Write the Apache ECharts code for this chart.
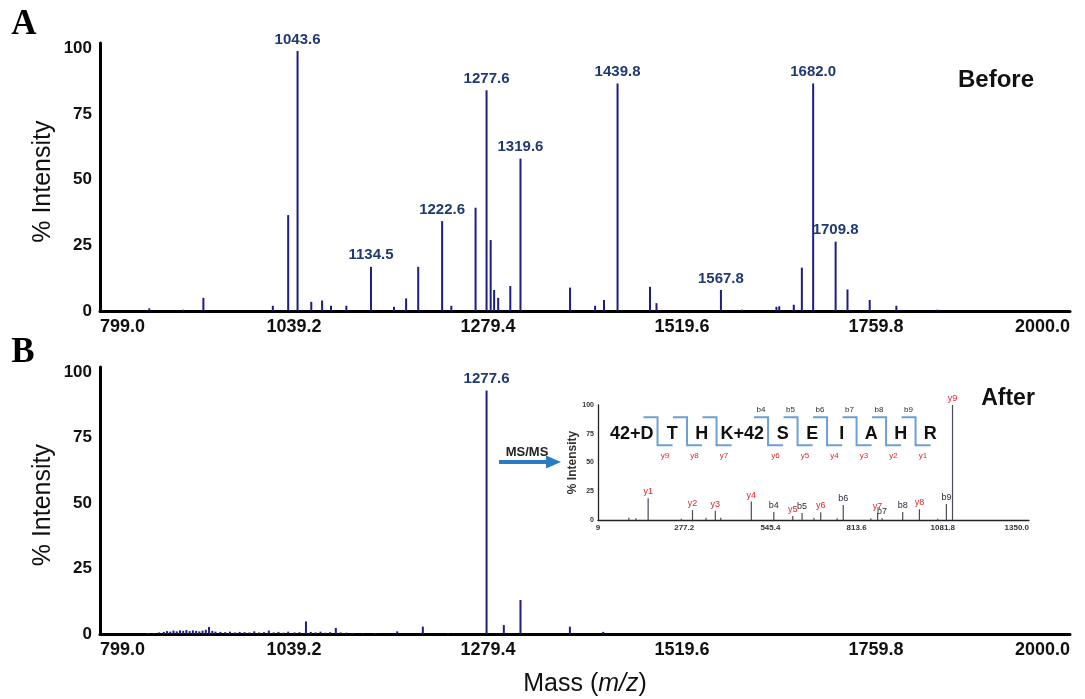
<!DOCTYPE html>
<html><head><meta charset="utf-8">
<script src="https://cdn.jsdelivr.net/npm/echarts@6/dist/echarts.min.js"></script>
<style>html,body{margin:0;padding:0;background:#fff}#c{width:1085px;height:699px}</style>
</head><body><div id="c"></div>
<script>
// ---------- axis ticks ----------
const massTicks = [799.0, 1039.2, 1279.4, 1519.6, 1759.8, 2000.0];
const intensityTicks = [0, 25, 50, 75, 100];
const msmsTicks = [9, 277.2, 545.4, 813.6, 1081.8, 1350.0];
const msmsTickLabels = ['9', '277.2', '545.4', '813.6', '1081.8', '1350.0'];

// ---------- panel A (Before) ----------
const beforeMz  = [860, 902, 927, 1013, 1032, 1043.6, 1060.6, 1074, 1085, 1104,
                   1134.5, 1163, 1178, 1193, 1222.6, 1234, 1264, 1277.6, 1282.7, 1287, 1292,
                   1307, 1319.6, 1381, 1412, 1423, 1439.8, 1480, 1488, 1567.8, 1594,
                   1636.5, 1640, 1658, 1668, 1682.0, 1709.8, 1724.5, 1752, 1785, 1836];
const beforeInt = [1, 0.5, 5, 2, 36.5, 99, 3.5, 4, 2, 2,
                   16.8, 1.6, 4.8, 16.8, 34.2, 2, 39.3, 84, 27, 8, 5,
                   9.5, 58, 8.9, 2, 4.2, 86.6, 9.2, 3, 8, 0.5,
                   1.6, 1.8, 2.4, 16.5, 86.6, 26.4, 8.2, 4.2, 2, 0.5];
const beforeLabels = ['', '', '', '', '', '1043.6', '', '', '', '',
                      '1134.5', '', '', '', '1222.6', '', '', '1277.6', '', '', '',
                      '', '1319.6', '', '', '', '1439.8', '', '', '1567.8', '',
                      '', '', '', '', '1682.0', '1709.8', '', '', '', ''];

// ---------- panel B (After) ----------
const afterMz  = [858, 866, 872, 878, 882, 886, 890, 894, 898, 902, 906, 910, 914, 918, 922, 926, 930, 934,
                  938, 942, 948, 954, 960, 966, 972, 978, 984, 990, 996, 1002, 1008, 1014, 1020, 1026,
                  1032, 1040, 1046, 1054, 1060, 1066, 1072, 1078, 1084, 1091, 1097, 1104, 1112, 1124,
                  1140, 1167, 1198.7, 1230, 1277.6, 1299, 1319.6, 1380.8, 1422];
const afterInt = [0.4, 0.3, 0.6, 0.8, 1.1, 0.9, 1.3, 1.0, 1.4, 1.2, 1.5, 1.1, 1.4, 1.2, 1.0, 1.3, 1.6, 2.7,
                  1.2, 0.9, 0.8, 0.7, 0.9, 0.6, 0.8, 0.7, 0.6, 1.0, 0.6, 0.7, 1.3, 0.6, 0.8, 0.5,
                  0.9, 0.6, 0.7, 4.8, 0.8, 0.6, 0.9, 0.5, 0.7, 2.3, 0.6, 0.5, 0.4, 0.3,
                  0.4, 1.0, 2.8, 0.3, 93, 3.4, 13, 2.8, 0.8];
const afterLabels = afterMz.map(m => m === 1277.6 ? '1277.6' : '');

// ---------- inset MS/MS ----------
const msmsMz  = [105, 127, 165, 268, 303, 345, 374, 391, 486, 556, 615, 644, 681, 702,
                 753, 772, 858, 879, 893, 957, 1009, 1066, 1093, 1112];
const msmsInt = [2, 1.5, 19, 1, 8.7, 2, 8, 2, 16, 7, 3.5, 6, 2, 6.7,
                 1.5, 13, 1.5, 6, 1.5, 7, 9.3, 1, 14, 100];
const msmsIons = ['', '', 'y1', '', 'y2', '', 'y3', '', 'y4', 'b4', 'y5', 'b5', '', 'y6',
                  '', 'b6', '', 'y7', 'b7', 'b8', 'y8', '', 'b9', 'y9'];
const sequence = ['42+D', 'T', 'H', 'K+42', 'S', 'E', 'I', 'A', 'H', 'R'];

// ---------- styles ----------
const FONT = 'Arial, "Liberation Sans", Helvetica, sans-serif';
const PEAK = '#1d1d82';
const LABEL_BLUE = '#1f3a70';
const ION_RED = '#e0262c';
const ION_DARK = '#2a2a3a';
const BRACKET = '#6c9fd3';

const chart = echarts.init(document.getElementById('c'), null, {renderer: 'canvas'});

function massAxis(gi, withName) {
  const ax = {
    gridIndex: gi, type: 'value', min: 799, max: 2000,
    axisLine: {show: true, onZero: false, lineStyle: {color: '#000', width: 3}},
    axisTick: {show: false},
    splitLine: {show: false},
    axisLabel: {
      customValues: massTicks, formatter: v => v.toFixed(1),
      fontFamily: FONT, fontWeight: 'bold', fontSize: 18, color: '#111', margin: 7,
      alignMinLabel: 'left', alignMaxLabel: 'right'
    }
  };
  if (withName) {
    ax.name = '{a|Mass (}{b|m/z}{a|)}';
    ax.nameLocation = 'middle';
    ax.nameGap = 38;
    ax.nameTextStyle = {rich: {
      a: {fontFamily: FONT, fontSize: 25, color: '#111'},
      b: {fontFamily: FONT, fontSize: 25, color: '#111', fontStyle: 'italic'}
    }};
  }
  return ax;
}
function intAxis(gi) {
  return {
    gridIndex: gi, type: 'value', min: 0, max: 102,
    axisLine: {show: true, lineStyle: {color: '#000', width: 3}},
    axisTick: {show: false},
    splitLine: {show: false},
    axisLabel: {customValues: intensityTicks, fontFamily: FONT, fontWeight: 'bold',
                fontSize: 17, color: '#111', margin: 8}
  };
}
function peakSeries(gi, mz, inten, labels) {
  return {
    type: 'bar', xAxisIndex: gi, yAxisIndex: gi, barWidth: 2,
    itemStyle: {color: PEAK},
    label: {show: true, position: 'top', distance: 4, formatter: p => p.name,
            fontFamily: FONT, fontWeight: 'bold', fontSize: 15, color: LABEL_BLUE},
    data: mz.map((m, i) => ({name: labels[i], value: [m, inten[i]]})),
    animation: false
  };
}

chart.setOption({
  animation: false,
  grid: [
    {left: 100, right: 15, top: 43, height: 268, outerBoundsMode: 'none'},
    {left: 100, right: 15, top: 367, height: 267, outerBoundsMode: 'none'},
    {left: 598, right: 56, top: 405, height: 115, outerBoundsMode: 'none'}
  ],
  xAxis: [
    massAxis(0, false),
    massAxis(1, true),
    {gridIndex: 2, type: 'value', min: 9, max: 1350,
     axisLine: {show: true, onZero: false, lineStyle: {color: '#222', width: 1.3}},
     axisTick: {show: false}, splitLine: {show: false},
     axisLabel: {customValues: msmsTicks,
                 formatter: v => msmsTickLabels[msmsTicks.indexOf(v)] || '',
                 fontFamily: FONT, fontWeight: 'bold', fontSize: 8, color: '#333', margin: 4,
                 alignMaxLabel: 'right'}}
  ],
  yAxis: [
    intAxis(0),
    intAxis(1),
    {gridIndex: 2, type: 'value', min: 0, max: 100,
     name: '% Intensity', nameLocation: 'middle', nameGap: 18,
     nameTextStyle: {fontFamily: FONT, fontSize: 12, fontWeight: 'bold', color: '#333'},
     axisLine: {show: true, lineStyle: {color: '#222', width: 1.3}},
     axisTick: {show: false}, splitLine: {show: false},
     axisLabel: {customValues: intensityTicks, fontFamily: FONT, fontWeight: 'bold',
                 fontSize: 7, color: '#333', margin: 4}}
  ],
  series: [
    peakSeries(0, beforeMz, beforeInt, beforeLabels),
    peakSeries(1, afterMz, afterInt, afterLabels),
    {
      type: 'bar', xAxisIndex: 2, yAxisIndex: 2, barWidth: 1.2,
      itemStyle: {color: '#4b4b5c'},
      label: {show: true, position: 'top', distance: 2, formatter: p => p.name,
              fontFamily: FONT, fontSize: 9},
      data: msmsMz.map((m, i) => ({
        name: msmsIons[i], value: [m, msmsInt[i]],
        label: {color: msmsIons[i].startsWith('y') ? ION_RED : ION_DARK}
      }))
    }
  ]
});

// ---------- annotations ----------
const g = [];
const serif = 'bold 35px "Liberation Serif", "Times New Roman", serif';
g.push({type: 'text', x: 24, y: 25, style: {text: 'A', font: serif, fill: '#000', align: 'center', verticalAlign: 'middle'}});
g.push({type: 'text', x: 23, y: 353, style: {text: 'B', font: serif, fill: '#000', align: 'center', verticalAlign: 'middle'}});
g.push({type: 'text', x: 996, y: 80, style: {text: 'Before', font: 'bold 24px ' + FONT, fill: '#111', align: 'center', verticalAlign: 'middle'}});
g.push({type: 'text', x: 1008, y: 399, style: {text: 'After', font: 'bold 23px ' + FONT, fill: '#111', align: 'center', verticalAlign: 'middle'}});
g.push({type: 'text', x: 527, y: 452, style: {text: 'MS/MS', font: 'bold 13px ' + FONT, fill: '#222', align: 'center', verticalAlign: 'middle'}});
g.push({type: 'line', shape: {x1: 499, y1: 462, x2: 549, y2: 462}, style: {stroke: '#2a7bc6', lineWidth: 4}});
g.push({type: 'polygon', shape: {points: [[546, 455.5], [561, 462], [546, 468.5]]}, style: {fill: '#2a7bc6'}});

// y-axis titles, centred on each panel's intensity range
[0, 1].forEach(gi => {
  const mid = chart.convertToPixel({gridIndex: gi}, [799, 50]);
  g.push({type: 'text', x: 43, y: mid[1] + 2, rotation: Math.PI / 2,
          style: {text: '% Intensity', font: '25px ' + FONT, fill: '#111', align: 'center', verticalAlign: 'middle'}});
});

// sequence with fragmentation brackets, anchored to the inset axes
const origin = chart.convertToPixel({gridIndex: 2}, [9, 75]);
const ctx = document.createElement('canvas').getContext('2d');
const seqFont = 'bold 18px ' + FONT;
ctx.font = seqFont;
let x = origin[0] + 8;
const yc = origin[1];
const slots = sequence.map(r => Math.max(29.5, ctx.measureText(r).width + 8));
const n = sequence.length;
sequence.forEach((r, i) => {
  g.push({type: 'text', x: x + slots[i] / 2, y: yc, style: {text: r, font: seqFont, fill: '#111', align: 'center', verticalAlign: 'middle'}});
  x += slots[i];
  if (i < n - 1) {
    const bx = x, yt = yc - 16.5, yb = yc + 11.5;
    g.push({type: 'polyline', shape: {points: [[bx - 14, yt], [bx, yt], [bx, yb], [bx + 15, yb]]},
            style: {stroke: BRACKET, lineWidth: 2, fill: null}});
    g.push({type: 'text', x: bx + 7.5, y: yc + 22.5, style: {text: 'y' + (n - 1 - i), font: '8px ' + FONT, fill: ION_RED, align: 'center', verticalAlign: 'middle'}});
    if (i >= 3) {
      g.push({type: 'text', x: bx - 7, y: yc - 23.5, style: {text: 'b' + (i + 1), font: '8px ' + FONT, fill: ION_DARK, align: 'center', verticalAlign: 'middle'}});
    }
  }
});
chart.setOption({graphic: g});
</script></body></html>
